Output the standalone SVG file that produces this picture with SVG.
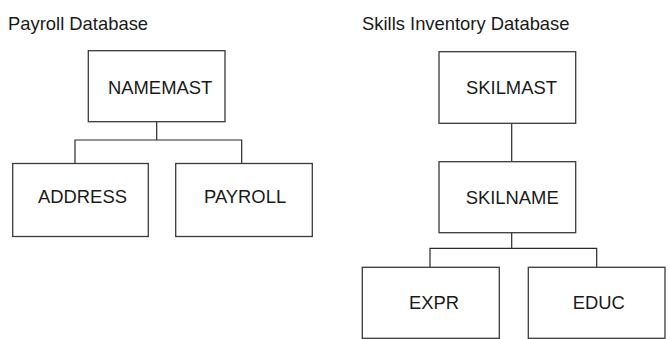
<svg xmlns="http://www.w3.org/2000/svg" width="670" height="339" viewBox="0 0 670 339">
<style>
.box{fill:#fff;stroke:#3a3a3a;stroke-width:1.3}
.line{fill:none;stroke:#2a2a2a;stroke-width:1.2}
.t{font-family:"Liberation Sans",Arial,sans-serif;font-size:18.4px;fill:#1a1a1a}
</style>
<rect width="670" height="339" fill="#fff"/>
<text class="t" x="8" y="30">Payroll Database</text>
<text class="t" x="362" y="30">Skills Inventory Database</text>
<g id="connectors">
<path class="line" d="M156.7 122V140M75 164V140H241.7V164"/>
<path class="line" d="M511.7 123.3V161.7"/>
<path class="line" d="M511.7 232.7V248.3M430 267.3V248.3H596.7V267.3"/>
</g>
<g id="namemast"><rect class="box" x="88.3" y="50.7" width="136.7" height="71"/><text class="t" x="108" y="94">NAMEMAST</text></g>
<g id="address"><rect class="box" x="12.7" y="163.5" width="135.6" height="73"/><text class="t" x="38" y="203">ADDRESS</text></g>
<g id="payroll"><rect class="box" x="175.7" y="163.5" width="136.6" height="73"/><text class="t" x="204" y="203">PAYROLL</text></g>
<g id="skilmast"><rect class="box" x="439" y="51.7" width="136.7" height="71.6"/><text class="t" x="466" y="93.5">SKILMAST</text></g>
<g id="skilname"><rect class="box" x="439" y="161.7" width="136.7" height="71"/><text class="t" x="465.7" y="204.3">SKILNAME</text></g>
<g id="expr"><rect class="box" x="362.3" y="267.3" width="137" height="71"/><text class="t" x="409" y="309.3">EXPR</text></g>
<g id="educ"><rect class="box" x="528.3" y="267.3" width="136.7" height="71"/><text class="t" x="572.7" y="309.3">EDUC</text></g>
</svg>
